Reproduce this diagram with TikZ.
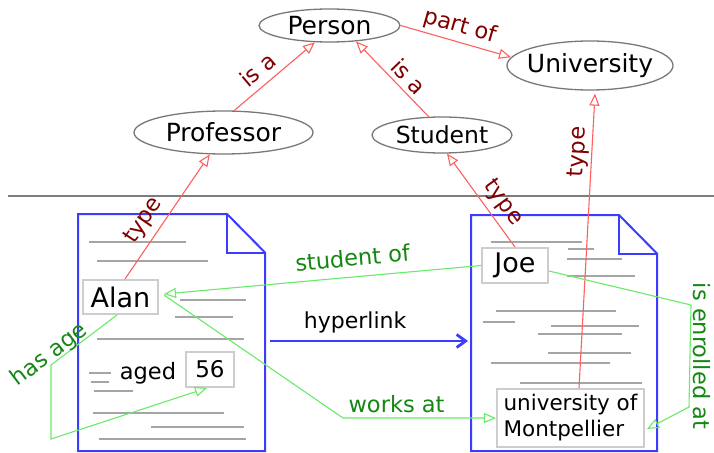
\documentclass[tikz,border=0pt]{standalone}
\usepackage{fontspec}
\setmainfont{DejaVu Sans}
\usetikzlibrary{shapes.geometric,arrows.meta,calc}

\definecolor{relred}{RGB}{255,95,95}
\definecolor{lblred}{RGB}{128,0,0}
\definecolor{linkgreen}{RGB}{105,235,105}
\definecolor{lblgreen}{RGB}{20,135,20}
\definecolor{docblue}{RGB}{60,60,255}
\definecolor{ellgray}{RGB}{120,120,120}
\definecolor{boxgray}{RGB}{205,205,205}
\definecolor{linegray}{RGB}{165,165,165}
\definecolor{rulegray}{RGB}{125,125,125}

\tikzset{
  concept/.style={ellipse, draw=ellgray, line width=1.3pt, fill=white, inner sep=-8pt},
  valbox/.style={rectangle, draw=boxgray, line width=2pt, fill=white, inner sep=0pt},
  docframe/.style={rectangle, draw=none, inner sep=0pt, outer sep=0pt},
  docedge/.style={draw=docblue, line width=2pt, line join=miter},
  txtline/.style={draw=linegray, line width=1.5pt},
  divider/.style={draw=rulegray, line width=1.5pt},
  rel/.style={draw=relred, line width=1.1pt, -{Triangle[open,length=12pt,width=10pt]}},
  link/.style={draw=linkgreen, line width=1.1pt, -{Triangle[open,length=12pt,width=10pt]}},
  hyper/.style={draw=docblue, line width=2.8pt, -{Straight Barb[length=9pt,width=13pt]}},
  rellbl/.style={text=lblred, font=\fontsize{22.5}{27}\selectfont, inner sep=0pt, sloped},
  linklbl/.style={text=lblgreen, font=\fontsize{22.5}{27}\selectfont, inner sep=0pt},
  plainlbl/.style={text=black, font=\fontsize{22}{26}\selectfont, inner sep=0pt},
}

\begin{document}
\begin{tikzpicture}[x=1pt, y=-1pt]
  \fill[white] (0,0) rectangle (714,452);
  \useasboundingbox (0,0) rectangle (714,452);

  % schema level: classes
  \node[concept, minimum width=141pt, minimum height=33pt, font=\fontsize{25}{30}\selectfont] (person) at (329.5,25.5) {Person};
  \node[concept, minimum width=166pt, minimum height=49pt, font=\fontsize{25}{30}\selectfont] (uni) at (590,65.5) {University};
  \node[concept, minimum width=179pt, minimum height=43pt, font=\fontsize{25}{30}\selectfont] (prof) at (223.5,132.5) {Professor};
  \node[concept, minimum width=140pt, minimum height=36pt, font=\fontsize{23.5}{28}\selectfont] (student) at (442,135) {Student};

  % separator between schema and documents
  \coordinate (ruleL) at (8,196);
  \coordinate (ruleR) at (714,196);
  \draw[divider] (ruleL) -- (ruleR);

  % placeholder text lines of the two pages
  \foreach \a/\b/\c in {89/242/186, 97/261/208, 180/300/246, 175/317/233, 97/339/244,
                        89/373/111, 91/382/109, 94/391/133, 93/413/224, 151/427/244, 99/439/246,
                        491/242/582, 568/249/594, 567/259/622, 567/276/635, 496/311/616,
                        483/322/515, 551/326/639, 538/334/622, 548/353/631, 491/363/610, 520/383/642}
    \draw[txtline] (\a,\b) -- (\c,\b);

  % pages with a folded corner
  \node[docframe, minimum width=187pt, minimum height=237pt] (docA) at (171.5,332.5) {};
  \node[docframe, minimum width=186pt, minimum height=236pt] (docB) at (564,333) {};
  \foreach \d in {docA, docB} {
    \draw[docedge] (\d.north west) -- ([xshift=-38pt]\d.north east) -- ([yshift=-38.5pt]\d.north east)
      -- (\d.south east) -- (\d.south west) -- cycle;
    \draw[docedge] ([xshift=-38pt]\d.north east) |- ([yshift=-38.5pt]\d.north east);
  }

  % annotated values inside the pages
  \node[valbox, minimum width=75pt, minimum height=34pt, font=\fontsize{27}{32}\selectfont] (alan) at (120.5,297) {Alan};
  \node[plainlbl, font=\fontsize{22.5}{27}\selectfont] (aged) at (148,373) {aged};
  \node[valbox, minimum width=48pt, minimum height=35pt, font=\fontsize{23}{28}\selectfont] (n56) at (210,369.5) {56};
  \node[valbox, minimum width=66pt, minimum height=35pt, font=\fontsize{27}{32}\selectfont] (joe) at (515,265.5) {Joe};
  \node[valbox, minimum width=147pt, minimum height=58pt, align=left, font=\fontsize{21.5}{26}\selectfont] (univ) at (570.5,418) {university of\\Montpellier};

  % hyperlink between the pages
  \draw[hyper] ([xshift=5pt,yshift=-8.5pt]docA.east) --
    node[plainlbl, pos=0.43, above=7pt] {hyperlink} ([xshift=-3pt,yshift=-8pt]docB.west);

  % subclass / property / type relations
  \draw[rel] (prof.64) -- node[rellbl, pos=0.42, above=7pt] {is a} (person.229);
  \draw[rel] (student.126) -- node[rellbl, pos=0.41, above=4.5pt] {is a} (person.329);
  \draw[rel] (person.east) -- node[rellbl, pos=0.5, above=4pt] {part of} (uni.174);
  \draw[rel] ([xshift=4.5pt]alan.north) -- node[rellbl, pos=0.39, above=6.5pt] {type} (prof.238);
  \draw[rel] (joe.north) -- node[rellbl, pos=0.37, above=5.5pt] {type} (student.285);
  \draw[rel] ([xshift=8.5pt]univ.north) -- node[rellbl, pos=0.8, above=2.3pt] {type} ([xshift=5pt,yshift=-3pt]uni.south);

  % relations between annotated values
  \coordinate (waBend) at (343,418);
  \coordinate (haBendA) at (51,365);
  \coordinate (haBendB) at (51,439);
  \coordinate (ieBendA) at (691,305);
  \coordinate (ieBendB) at (689,407);

  \draw[link] (joe.west) -- node[linklbl, sloped, pos=0.4, above=10pt] {student of} ([xshift=5pt,yshift=3pt]alan.east);
  \draw[link] ([xshift=5pt,yshift=2pt]alan.east) -- (waBend) --
    node[linklbl, pos=0.35, above=4.6pt] {works at} (univ.west);
  \draw[link] ([xshift=-3.5pt]alan.south) -- node[linklbl, sloped, pos=0.94, above=-2.5pt] {has age} (haBendA)
    -- (haBendB) -- ([xshift=-3pt]n56.south);
  \draw[link] ([yshift=-5.5pt]joe.east) -- (ieBendA) -- (ieBendB)
    -- ([xshift=2pt,yshift=-11pt]univ.east);
  \node[linklbl, rotate=-90, anchor=south] (enrolLbl) at ($(ieBendA)!0.5!(ieBendB)+(3,0)$) {is enrolled at};
\end{tikzpicture}
\end{document}
